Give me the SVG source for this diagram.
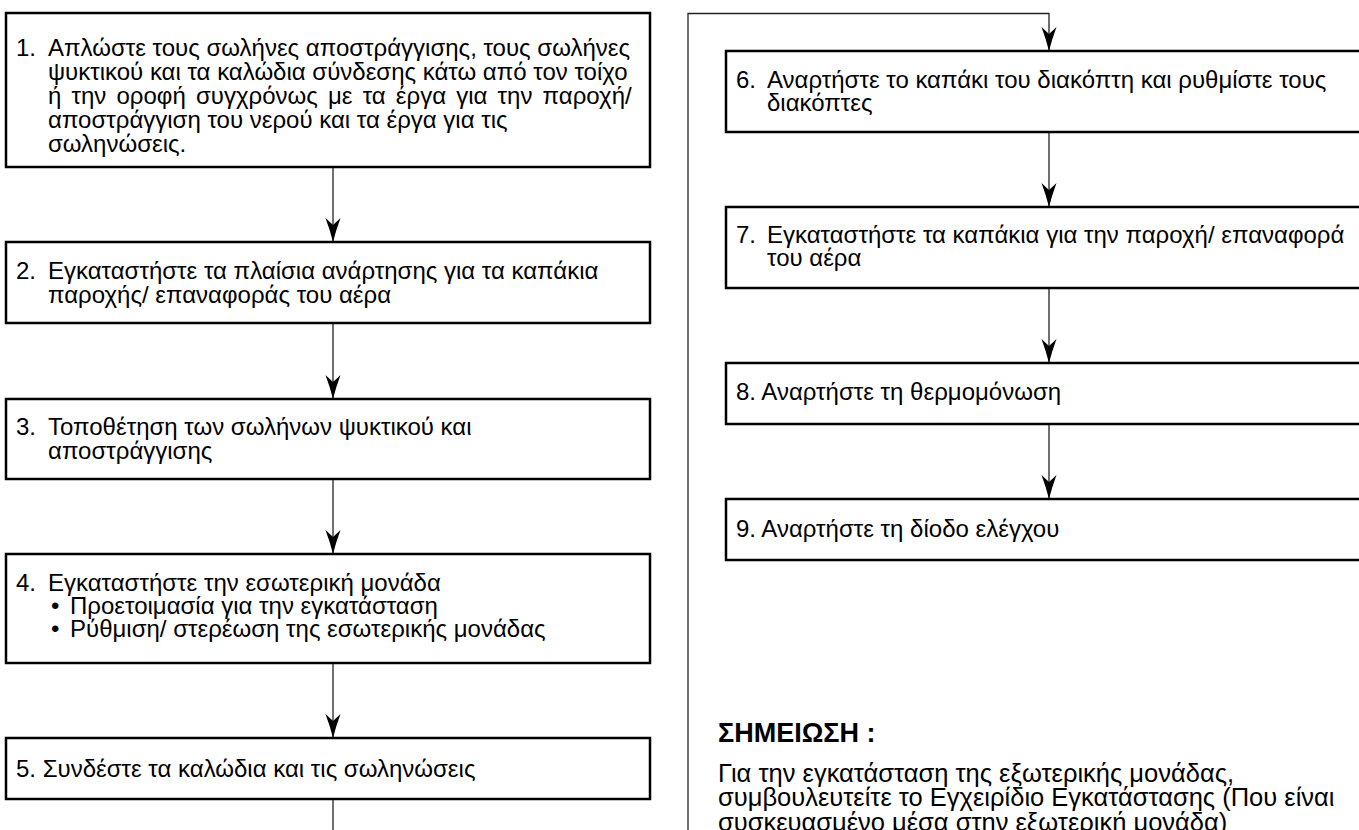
<svg xmlns="http://www.w3.org/2000/svg" width="1359" height="830" viewBox="0 0 1359 830">
<style>
.box{fill:#fff;stroke:#000;stroke-width:2.5}
.t{font-family:"Liberation Sans",Arial,sans-serif;font-size:24px;fill:#000}
.n{font-family:"Liberation Sans",Arial,sans-serif;font-size:25.5px;fill:#000}
.h{font-family:"Liberation Sans",Arial,sans-serif;font-size:27px;font-weight:bold;fill:#000}
.c{fill:none;stroke:#222;stroke-width:1.3}
</style>
<defs>
<marker id="ah" markerUnits="userSpaceOnUse" markerWidth="26" markerHeight="16" viewBox="-25 -8 26 16" refX="0" refY="0" orient="auto">
<path d="M0,0 Q-12,-3 -24,-7.5 L-17,0 L-24,7.5 Q-12,3 0,0 Z" fill="#000"/>
</marker>
</defs>
<g id="connectors">
<path class="c" d="M333,167 V242" marker-end="url(#ah)"/>
<path class="c" d="M333,323 V399" marker-end="url(#ah)"/>
<path class="c" d="M333,479 V554" marker-end="url(#ah)"/>
<path class="c" d="M333,663 V738" marker-end="url(#ah)"/>
<path class="c" d="M333,799 V835"/>
<path class="c" d="M688,835 V13.5 H1049 V51" marker-end="url(#ah)"/>
<path class="c" d="M1049,132 V207" marker-end="url(#ah)"/>
<path class="c" d="M1049,288 V363" marker-end="url(#ah)"/>
<path class="c" d="M1049,424 V499" marker-end="url(#ah)"/>
</g>
<g id="n1">
<rect class="box" x="6" y="13" width="644" height="154"/>
<text class="t" x="16" y="56">1.</text>
<text class="t" x="48" y="56">Απλώστε τους σωλήνες αποστράγγισης, τους σωλήνες</text>
<text class="t" x="48" y="80">ψυκτικού και τα καλώδια σύνδεσης κάτω από τον τοίχο</text>
<text class="t" x="48" y="104" word-spacing="3.5">ή την οροφή συγχρόνως με τα έργα για την παροχή/</text>
<text class="t" x="48" y="128">αποστράγγιση του νερού και τα έργα για τις</text>
<text class="t" x="48" y="152">σωληνώσεις.</text>
</g>
<g id="n2">
<rect class="box" x="6" y="242" width="644" height="81"/>
<text class="t" x="16" y="279">2.</text>
<text class="t" x="48" y="279">Εγκαταστήστε τα πλαίσια ανάρτησης για τα καπάκια</text>
<text class="t" x="48" y="303">παροχής/ επαναφοράς του αέρα</text>
</g>
<g id="n3">
<rect class="box" x="6" y="399" width="644" height="80"/>
<text class="t" x="16" y="435">3.</text>
<text class="t" x="48" y="435">Τοποθέτηση των σωλήνων ψυκτικού και</text>
<text class="t" x="48" y="459">αποστράγγισης</text>
</g>
<g id="n4">
<rect class="box" x="6" y="554" width="644" height="109"/>
<text class="t" x="16" y="591">4.</text>
<text class="t" x="48" y="591">Εγκαταστήστε την εσωτερική μονάδα</text>
<text class="t" x="51" y="614">•</text>
<text class="t" x="70" y="614">Προετοιμασία για την εγκατάσταση</text>
<text class="t" x="51" y="637">•</text>
<text class="t" x="70" y="637">Ρύθμιση/ στερέωση της εσωτερικής μονάδας</text>
</g>
<g id="n5">
<rect class="box" x="6" y="738" width="644" height="61"/>
<text class="t" x="16" y="777">5. Συνδέστε τα καλώδια και τις σωληνώσεις</text>
</g>
<g id="n6">
<rect class="box" x="726" y="51" width="644" height="81"/>
<text class="t" x="736" y="88">6.</text>
<text class="t" x="767" y="88">Αναρτήστε το καπάκι του διακόπτη και ρυθμίστε τους</text>
<text class="t" x="767" y="111">διακόπτες</text>
</g>
<g id="n7">
<rect class="box" x="726" y="207" width="644" height="81"/>
<text class="t" x="736" y="243">7.</text>
<text class="t" x="767" y="243">Εγκαταστήστε τα καπάκια για την παροχή/ επαναφορά</text>
<text class="t" x="767" y="266">του αέρα</text>
</g>
<g id="n8">
<rect class="box" x="726" y="363" width="644" height="61"/>
<text class="t" x="736" y="400">8. Αναρτήστε τη θερμομόνωση</text>
</g>
<g id="n9">
<rect class="box" x="726" y="499" width="644" height="61"/>
<text class="t" x="736" y="537">9. Αναρτήστε τη δίοδο ελέγχου</text>
</g>
<g id="note">
<text class="h" x="718" y="742">ΣΗΜΕΙΩΣΗ :</text>
<text class="n" x="718" y="782">Για την εγκατάσταση της εξωτερικής μονάδας,</text>
<text class="n" x="718" y="806">συμβουλευτείτε το Εγχειρίδιο Εγκατάστασης (Που είναι</text>
<text class="n" x="718" y="831">συσκευασμένο μέσα στην εξωτερική μονάδα)</text>
</g>
</svg>
